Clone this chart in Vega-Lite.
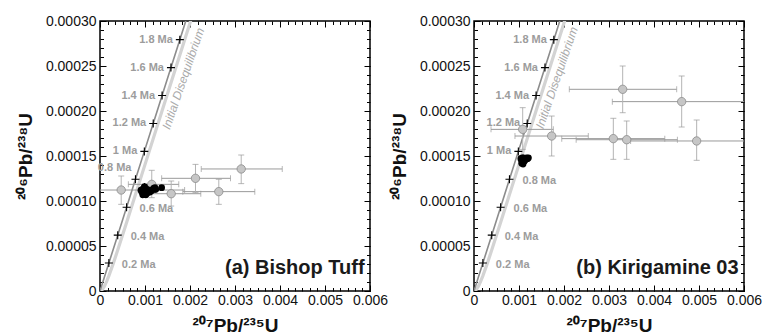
{
 "$schema": "https://vega.github.io/schema/vega-lite/v6.json",
 "padding": {"left": 15, "top": 13, "right": 2, "bottom": 0},
 "spacing": 104,
 "bounds": "flush",
 "config": {
  "font": "Liberation Sans",
  "view": {"stroke": "#000", "strokeWidth": 1.5},
  "axis": {"grid": false, "domain": false, "labelFont": "Liberation Sans", "titleFont": "Liberation Sans", "tickColor": "#000", "labelColor": "#111", "titleColor": "#111", "labelFlush": false, "labelOverlap": false}
 },
 "datasets": {
  "conc": [
   {"t": 0, "x": 0, "y": 0},
   {"t": 0.2, "x": 0.00019699, "y": 0.000031028},
   {"t": 0.4, "x": 0.00039402, "y": 0.000062052},
   {"t": 0.6, "x": 0.00059108, "y": 0.000093079},
   {"t": 0.8, "x": 0.00078819, "y": 0.000124108},
   {"t": 1.0, "x": 0.00098534, "y": 0.000155137},
   {"t": 1.2, "x": 0.00118252, "y": 0.000186167},
   {"t": 1.4, "x": 0.00137974, "y": 0.000217199},
   {"t": 1.6, "x": 0.00157700, "y": 0.000248231},
   {"t": 1.8, "x": 0.00177430, "y": 0.000279264},
   {"t": 2.0, "x": 0.00197164, "y": 0.000310298}
  ],
  "diseq": [
   {"t": 0, "x": 0, "y": 0},
   {"t": 0.01, "x": 0.00000985, "y": 0.000000069},
   {"t": 0.02, "x": 0.000019697, "y": 0.000000267},
   {"t": 0.05, "x": 0.00004924, "y": 0.000001532},
   {"t": 0.1, "x": 0.00009849, "y": 0.00000535},
   {"t": 0.15, "x": 0.00014774, "y": 0.000010618},
   {"t": 0.2, "x": 0.00019699, "y": 0.0000168},
   {"t": 0.3, "x": 0.00029553, "y": 0.000030684},
   {"t": 0.4, "x": 0.00039402, "y": 0.000045545},
   {"t": 0.5, "x": 0.00049255, "y": 0.0000608},
   {"t": 0.6, "x": 0.00059108, "y": 0.000076208},
   {"t": 0.8, "x": 0.00078819, "y": 0.000107179},
   {"t": 1.0, "x": 0.00098534, "y": 0.000138197},
   {"t": 1.4, "x": 0.00137974, "y": 0.000200259},
   {"t": 1.8, "x": 0.0017743, "y": 0.000262324},
   {"t": 2.1, "x": 0.00207032, "y": 0.000308876}
  ],
  "ages": [
   {"label": "0.2 Ma", "x": 0.00019699, "y": 0.000031028, "sa": "R", "sb": "R"},
   {"label": "0.4 Ma", "x": 0.00039402, "y": 0.000062052, "sa": "R", "sb": "R"},
   {"label": "0.6 Ma", "x": 0.00059108, "y": 0.000093079, "sa": "R", "sb": "R"},
   {"label": "0.8 Ma", "x": 0.00078819, "y": 0.000124108, "sa": "UL", "sb": "R"},
   {"label": "1 Ma", "x": 0.00098534, "y": 0.000155137, "sa": "L", "sb": "L"},
   {"label": "1.2 Ma", "x": 0.00118252, "y": 0.000186167, "sa": "L", "sb": "L"},
   {"label": "1.4 Ma", "x": 0.00137974, "y": 0.000217199, "sa": "L", "sb": "L"},
   {"label": "1.6 Ma", "x": 0.001577, "y": 0.000248231, "sa": "L", "sb": "L"},
   {"label": "1.8 Ma", "x": 0.0017743, "y": 0.000279264, "sa": "L", "sb": "L"}
  ],
  "grayA": [
   {"x": 0.000471, "y": 0.0001122, "xmin": -0.00094, "xmax": 0.00188, "ymin": 0.0000963, "ymax": 0.0001278},
   {"x": 0.00115, "y": 0.0001185, "xmin": 0.00063, "xmax": 0.00175, "ymin": 0.0001037, "ymax": 0.0001341},
   {"x": 0.001582, "y": 0.0001081, "xmin": 0.00092, "xmax": 0.00224, "ymin": 0.0000944, "ymax": 0.0001222},
   {"x": 0.002122, "y": 0.0001252, "xmin": 0.00137, "xmax": 0.0029, "ymin": 0.0001093, "ymax": 0.0001407},
   {"x": 0.003138, "y": 0.0001356, "xmin": 0.00225, "xmax": 0.00405, "ymin": 0.0001193, "ymax": 0.0001511},
   {"x": 0.00264, "y": 0.0001104, "xmin": 0.00184, "xmax": 0.00344, "ymin": 0.0000963, "ymax": 0.0001241}
  ],
  "grayB": [
   {"x": 0.003304, "y": 0.0002241, "xmin": 0.002118, "xmax": 0.004504, "ymin": 0.0001981, "ymax": 0.00025},
   {"x": 0.004615, "y": 0.0002104, "xmin": 0.003074, "xmax": 0.00616, "ymin": 0.0001822, "ymax": 0.0002389},
   {"x": 0.001082, "y": 0.0001796, "xmin": 0.000378, "xmax": 0.001763, "ymin": 0.0001574, "ymax": 0.0002037},
   {"x": 0.001726, "y": 0.0001722, "xmin": 0.00091, "xmax": 0.00254, "ymin": 0.00015, "ymax": 0.0001944},
   {"x": 0.003096, "y": 0.0001693, "xmin": 0.00195, "xmax": 0.00424, "ymin": 0.0001463, "ymax": 0.0001919},
   {"x": 0.003393, "y": 0.0001681, "xmin": 0.00227, "xmax": 0.00452, "ymin": 0.0001463, "ymax": 0.0001889},
   {"x": 0.004948, "y": 0.0001667, "xmin": 0.00348, "xmax": 0.00641, "ymin": 0.0001452, "ymax": 0.00019}
  ],
  "blackA": [
   {"x": 0.00091, "y": 0.000112, "xmin": 0.00086, "xmax": 0.00096, "ymin": 0.000108, "ymax": 0.000116},
   {"x": 0.00093, "y": 0.00011, "xmin": 0.00088, "xmax": 0.00098, "ymin": 0.000106, "ymax": 0.000114},
   {"x": 0.00095, "y": 0.000113, "xmin": 0.0009, "xmax": 0.001, "ymin": 0.000109, "ymax": 0.000117},
   {"x": 0.00096, "y": 0.000109, "xmin": 0.00091, "xmax": 0.00101, "ymin": 0.000105, "ymax": 0.000113},
   {"x": 0.00097, "y": 0.000111, "xmin": 0.00092, "xmax": 0.00102, "ymin": 0.000107, "ymax": 0.000115},
   {"x": 0.00098, "y": 0.000115, "xmin": 0.00093, "xmax": 0.00103, "ymin": 0.000111, "ymax": 0.000119},
   {"x": 0.00099, "y": 0.000108, "xmin": 0.00094, "xmax": 0.00104, "ymin": 0.000104, "ymax": 0.000112},
   {"x": 0.001, "y": 0.000112, "xmin": 0.00095, "xmax": 0.00105, "ymin": 0.000108, "ymax": 0.000116},
   {"x": 0.00101, "y": 0.00011, "xmin": 0.00096, "xmax": 0.00106, "ymin": 0.000106, "ymax": 0.000114},
   {"x": 0.00101, "y": 0.000114, "xmin": 0.00096, "xmax": 0.00106, "ymin": 0.00011, "ymax": 0.000118},
   {"x": 0.00102, "y": 0.000107, "xmin": 0.00097, "xmax": 0.00107, "ymin": 0.000103, "ymax": 0.000111},
   {"x": 0.00103, "y": 0.000111, "xmin": 0.00098, "xmax": 0.00108, "ymin": 0.000107, "ymax": 0.000115},
   {"x": 0.00104, "y": 0.000113, "xmin": 0.00099, "xmax": 0.00109, "ymin": 0.000109, "ymax": 0.000117},
   {"x": 0.00105, "y": 0.000109, "xmin": 0.001, "xmax": 0.0011, "ymin": 0.000105, "ymax": 0.000113},
   {"x": 0.00107, "y": 0.000111, "xmin": 0.00102, "xmax": 0.00112, "ymin": 0.000107, "ymax": 0.000115},
   {"x": 0.00109, "y": 0.000112, "xmin": 0.00104, "xmax": 0.00114, "ymin": 0.000108, "ymax": 0.000116},
   {"x": 0.00111, "y": 0.00011, "xmin": 0.00106, "xmax": 0.00116, "ymin": 0.000106, "ymax": 0.000114},
   {"x": 0.00113, "y": 0.000111, "xmin": 0.00108, "xmax": 0.00118, "ymin": 0.000107, "ymax": 0.000115},
   {"x": 0.00116, "y": 0.000112, "xmin": 0.00111, "xmax": 0.00121, "ymin": 0.000108, "ymax": 0.000116},
   {"x": 0.00119, "y": 0.000114, "xmin": 0.00114, "xmax": 0.00124, "ymin": 0.00011, "ymax": 0.000118},
   {"x": 0.00122, "y": 0.000115, "xmin": 0.00117, "xmax": 0.00127, "ymin": 0.000111, "ymax": 0.000119},
   {"x": 0.00124, "y": 0.000113, "xmin": 0.00119, "xmax": 0.00129, "ymin": 0.000109, "ymax": 0.000117},
   {"x": 0.00099, "y": 0.000116, "xmin": 0.00094, "xmax": 0.00104, "ymin": 0.000112, "ymax": 0.00012},
   {"x": 0.00095, "y": 0.000107, "xmin": 0.0009, "xmax": 0.001, "ymin": 0.000103, "ymax": 0.000111},
   {"x": 0.00137, "y": 0.0001148, "xmin": 0.00133, "xmax": 0.00141, "ymin": 0.0001128, "ymax": 0.0001168}
  ],
  "blackB": [
   {"x": 0.00104, "y": 0.000147, "xmin": 0.00101, "xmax": 0.00107, "ymin": 0.000144, "ymax": 0.00015},
   {"x": 0.00106, "y": 0.000145, "xmin": 0.00103, "xmax": 0.00109, "ymin": 0.000142, "ymax": 0.000148},
   {"x": 0.00107, "y": 0.000148, "xmin": 0.00104, "xmax": 0.0011, "ymin": 0.000145, "ymax": 0.000151},
   {"x": 0.00108, "y": 0.000143, "xmin": 0.00105, "xmax": 0.00111, "ymin": 0.00014, "ymax": 0.000146},
   {"x": 0.00109, "y": 0.000146, "xmin": 0.00106, "xmax": 0.00112, "ymin": 0.000143, "ymax": 0.000149},
   {"x": 0.0011, "y": 0.000148, "xmin": 0.00107, "xmax": 0.00113, "ymin": 0.000145, "ymax": 0.000151},
   {"x": 0.00111, "y": 0.000144, "xmin": 0.00108, "xmax": 0.00114, "ymin": 0.000141, "ymax": 0.000147},
   {"x": 0.00112, "y": 0.000147, "xmin": 0.00109, "xmax": 0.00115, "ymin": 0.000144, "ymax": 0.00015},
   {"x": 0.00113, "y": 0.000145, "xmin": 0.0011, "xmax": 0.00116, "ymin": 0.000142, "ymax": 0.000148},
   {"x": 0.00115, "y": 0.000147, "xmin": 0.00112, "xmax": 0.00118, "ymin": 0.000144, "ymax": 0.00015},
   {"x": 0.00117, "y": 0.000148, "xmin": 0.00114, "xmax": 0.0012, "ymin": 0.000145, "ymax": 0.000151},
   {"x": 0.00119, "y": 0.000147, "xmin": 0.00116, "xmax": 0.00122, "ymin": 0.000144, "ymax": 0.00015},
   {"x": 0.00121, "y": 0.000148, "xmin": 0.00118, "xmax": 0.00124, "ymin": 0.000145, "ymax": 0.000151},
   {"x": 0.00106, "y": 0.000142, "xmin": 0.00103, "xmax": 0.00109, "ymin": 0.000139, "ymax": 0.000145},
   {"x": 0.00109, "y": 0.000141, "xmin": 0.00106, "xmax": 0.00112, "ymin": 0.000138, "ymax": 0.000144}
  ]
 },
 "hconcat": [
  {
   "width": 270, "height": 270,
   "resolve": {"axis": {"x": "independent", "y": "independent"}},
   "layer": [
    {"data": {"name": "diseq"}, "mark": {"type": "line", "color": "#d3d3d3", "strokeWidth": 3.2, "clip": true},
     "encoding": {
      "x": {"field": "x", "type": "quantitative", "scale": {"domain": [0, 0.006], "nice": false, "zero": false},
            "axis": {"orient": "bottom", "values": [0, 0.001, 0.002, 0.003, 0.004, 0.005, 0.006], "ticks": false, "labelExpr": "datum.value == 0 ? '0' : format(datum.value, '.3f')", "labelFontSize": 14, "labelPadding": 2, "title": "²⁰⁷Pb/²³⁵U", "titleFontSize": 19, "titleFontWeight": "bold", "titlePadding": 9}},
      "y": {"field": "y", "type": "quantitative", "scale": {"domain": [0, 0.0003], "nice": false, "zero": false},
            "axis": {"orient": "left", "values": [0, 0.00005, 0.0001, 0.00015, 0.0002, 0.00025, 0.0003], "ticks": false, "labelExpr": "datum.value == 0 ? '0' : format(datum.value, '.5f')", "labelFontSize": 14, "labelPadding": 4, "title": "²⁰⁶Pb/²³⁸U", "titleFontSize": 19, "titleFontWeight": "bold", "titlePadding": 10}}
     }},
    {"data": {"name": "conc"}, "mark": {"type": "line", "color": "#8c8c8c", "strokeWidth": 1.6, "clip": true},
     "encoding": {
      "x": {"field": "x", "type": "quantitative", "axis": {"orient": "bottom", "values": [0, 0.001, 0.002, 0.003, 0.004, 0.005, 0.006], "labels": false, "title": null, "tickSize": -6, "tickWidth": 1}},
      "y": {"field": "y", "type": "quantitative", "axis": {"orient": "left", "values": [0, 0.00005, 0.0001, 0.00015, 0.0002, 0.00025, 0.0003], "labels": false, "title": null, "tickSize": -6, "tickWidth": 1}}
     }},
    {"data": {"name": "ages"}, "mark": {"type": "point", "shape": "M-1,0H1M0,-1V1", "filled": false, "stroke": "#000", "strokeWidth": 1.1, "size": 64, "opacity": 1},
     "encoding": {
      "x": {"field": "x", "type": "quantitative", "axis": {"orient": "bottom", "values": [0, 0.000166667, 0.000333333, 0.0005, 0.000666667, 0.000833333, 0.001, 0.001166667, 0.001333333, 0.0015, 0.001666667, 0.001833333, 0.002, 0.002166667, 0.002333333, 0.0025, 0.002666667, 0.002833333, 0.003, 0.003166667, 0.003333333, 0.0035, 0.003666667, 0.003833333, 0.004, 0.004166667, 0.004333333, 0.0045, 0.004666667, 0.004833333, 0.005, 0.005166667, 0.005333333, 0.0055, 0.005666667, 0.005833333, 0.006], "labels": false, "title": null, "tickSize": -3.5, "tickWidth": 1}},
      "y": {"field": "y", "type": "quantitative", "axis": {"orient": "left", "values": [0, 0.00001, 0.00002, 0.00003, 0.00004, 0.00005, 0.00006, 0.00007, 0.00008, 0.00009, 0.0001, 0.00011, 0.00012, 0.00013, 0.00014, 0.00015, 0.00016, 0.00017, 0.00018, 0.00019, 0.0002, 0.00021, 0.00022, 0.00023, 0.00024, 0.00025, 0.00026, 0.00027, 0.00028, 0.00029, 0.0003], "labels": false, "title": null, "tickSize": -3.5, "tickWidth": 1}}
     }},
    {"data": {"name": "ages"}, "transform": [{"filter": "datum.sa == 'L'"}],
     "mark": {"type": "text", "align": "right", "baseline": "middle", "dx": -7, "fontSize": 11, "fontWeight": "bold", "color": "#9c9c9c"},
     "encoding": {
      "x": {"field": "x", "type": "quantitative", "axis": {"orient": "top", "values": [0, 0.001, 0.002, 0.003, 0.004, 0.005, 0.006], "labels": false, "title": null, "tickSize": -6, "tickWidth": 1}},
      "y": {"field": "y", "type": "quantitative", "axis": {"orient": "right", "values": [0, 0.00005, 0.0001, 0.00015, 0.0002, 0.00025, 0.0003], "labels": false, "title": null, "tickSize": -6, "tickWidth": 1}},
      "text": {"field": "label"}
     }},
    {"data": {"name": "ages"}, "transform": [{"filter": "datum.sa == 'R'"}],
     "mark": {"type": "text", "align": "left", "baseline": "middle", "dx": 13, "dy": 2, "fontSize": 11, "fontWeight": "bold", "color": "#9c9c9c"},
     "encoding": {
      "x": {"field": "x", "type": "quantitative", "axis": {"orient": "top", "values": [0, 0.000166667, 0.000333333, 0.0005, 0.000666667, 0.000833333, 0.001, 0.001166667, 0.001333333, 0.0015, 0.001666667, 0.001833333, 0.002, 0.002166667, 0.002333333, 0.0025, 0.002666667, 0.002833333, 0.003, 0.003166667, 0.003333333, 0.0035, 0.003666667, 0.003833333, 0.004, 0.004166667, 0.004333333, 0.0045, 0.004666667, 0.004833333, 0.005, 0.005166667, 0.005333333, 0.0055, 0.005666667, 0.005833333, 0.006], "labels": false, "title": null, "tickSize": -3.5, "tickWidth": 1}},
      "y": {"field": "y", "type": "quantitative", "axis": {"orient": "right", "values": [0, 0.00001, 0.00002, 0.00003, 0.00004, 0.00005, 0.00006, 0.00007, 0.00008, 0.00009, 0.0001, 0.00011, 0.00012, 0.00013, 0.00014, 0.00015, 0.00016, 0.00017, 0.00018, 0.00019, 0.0002, 0.00021, 0.00022, 0.00023, 0.00024, 0.00025, 0.00026, 0.00027, 0.00028, 0.00029, 0.0003], "labels": false, "title": null, "tickSize": -3.5, "tickWidth": 1}},
      "text": {"field": "label"}
     }},
    {"data": {"name": "ages"}, "transform": [{"filter": "datum.sa == 'UL'"}],
     "mark": {"type": "text", "align": "right", "baseline": "middle", "dx": -4, "dy": -11, "fontSize": 11, "fontWeight": "bold", "color": "#9c9c9c"},
     "encoding": {"x": {"field": "x", "type": "quantitative", "axis": null}, "y": {"field": "y", "type": "quantitative", "axis": null}, "text": {"field": "label"}}},
    {"data": {"values": [{"label": "Initial Disequilibrium", "x": 0.00185, "y": 0.000236}]},
     "mark": {"type": "text", "angle": 289, "align": "center", "baseline": "middle", "fontSize": 12, "fontStyle": "italic", "color": "#aaaaaa"},
     "encoding": {"x": {"field": "x", "type": "quantitative", "axis": null}, "y": {"field": "y", "type": "quantitative", "axis": null}, "text": {"field": "label"}}},
    {"data": {"name": "grayA"}, "mark": {"type": "rule", "color": "#9a9a9a", "strokeWidth": 1, "clip": true},
     "encoding": {"x": {"field": "xmin", "type": "quantitative", "axis": null}, "x2": {"field": "xmax"}, "y": {"field": "y", "type": "quantitative", "axis": null}}},
    {"data": {"name": "grayA"}, "mark": {"type": "rule", "color": "#b4b4b4", "strokeWidth": 1, "clip": true},
     "encoding": {"y": {"field": "ymin", "type": "quantitative", "axis": null}, "y2": {"field": "ymax"}, "x": {"field": "x", "type": "quantitative", "axis": null}}},
    {"data": {"name": "grayA"}, "mark": {"type": "tick", "orient": "vertical", "size": 6, "thickness": 1, "color": "#9a9a9a", "clip": true},
     "encoding": {"x": {"field": "xmin", "type": "quantitative", "axis": null}, "y": {"field": "y", "type": "quantitative", "axis": null}}},
    {"data": {"name": "grayA"}, "mark": {"type": "tick", "orient": "vertical", "size": 6, "thickness": 1, "color": "#9a9a9a", "clip": true},
     "encoding": {"x": {"field": "xmax", "type": "quantitative", "axis": null}, "y": {"field": "y", "type": "quantitative", "axis": null}}},
    {"data": {"name": "grayA"}, "mark": {"type": "tick", "orient": "horizontal", "size": 6, "thickness": 1, "color": "#9a9a9a", "clip": true},
     "encoding": {"x": {"field": "x", "type": "quantitative", "axis": null}, "y": {"field": "ymin", "type": "quantitative", "axis": null}}},
    {"data": {"name": "grayA"}, "mark": {"type": "tick", "orient": "horizontal", "size": 6, "thickness": 1, "color": "#9a9a9a", "clip": true},
     "encoding": {"x": {"field": "x", "type": "quantitative", "axis": null}, "y": {"field": "ymax", "type": "quantitative", "axis": null}}},
    {"data": {"name": "blackA"}, "mark": {"type": "rule", "color": "#000", "strokeWidth": 1},
     "encoding": {"x": {"field": "xmin", "type": "quantitative", "axis": null}, "x2": {"field": "xmax"}, "y": {"field": "y", "type": "quantitative", "axis": null}}},
    {"data": {"name": "blackA"}, "mark": {"type": "rule", "color": "#000", "strokeWidth": 1},
     "encoding": {"y": {"field": "ymin", "type": "quantitative", "axis": null}, "y2": {"field": "ymax"}, "x": {"field": "x", "type": "quantitative", "axis": null}}},
    {"data": {"name": "grayA"}, "mark": {"type": "point", "filled": true, "color": "#c6c6c6", "stroke": "#8a8a8a", "strokeWidth": 0.8, "size": 70, "opacity": 1},
     "encoding": {"x": {"field": "x", "type": "quantitative", "axis": null}, "y": {"field": "y", "type": "quantitative", "axis": null}}},
    {"data": {"name": "blackA"}, "mark": {"type": "circle", "color": "#000", "size": 45, "opacity": 1},
     "encoding": {"x": {"field": "x", "type": "quantitative", "axis": null}, "y": {"field": "y", "type": "quantitative", "axis": null}}},
    {"data": {"values": [{"label": "(a) Bishop Tuff", "x": 0.00588, "y": 0.000019}]},
     "mark": {"type": "text", "align": "right", "baseline": "alphabetic", "fontSize": 20, "fontWeight": "bold", "color": "#1a1a1a"},
     "encoding": {"x": {"field": "x", "type": "quantitative", "axis": null}, "y": {"field": "y", "type": "quantitative", "axis": null}, "text": {"field": "label"}}}
   ]
  },
  {
   "width": 270, "height": 270,
   "resolve": {"axis": {"x": "independent", "y": "independent"}},
   "layer": [
    {"data": {"name": "diseq"}, "mark": {"type": "line", "color": "#d3d3d3", "strokeWidth": 3.2, "clip": true},
     "encoding": {
      "x": {"field": "x", "type": "quantitative", "scale": {"domain": [0, 0.006], "nice": false, "zero": false},
            "axis": {"orient": "bottom", "values": [0, 0.001, 0.002, 0.003, 0.004, 0.005, 0.006], "ticks": false, "labelExpr": "datum.value == 0 ? '0' : format(datum.value, '.3f')", "labelFontSize": 14, "labelPadding": 2, "title": "²⁰⁷Pb/²³⁵U", "titleFontSize": 19, "titleFontWeight": "bold", "titlePadding": 9}},
      "y": {"field": "y", "type": "quantitative", "scale": {"domain": [0, 0.0003], "nice": false, "zero": false},
            "axis": {"orient": "left", "values": [0, 0.00005, 0.0001, 0.00015, 0.0002, 0.00025, 0.0003], "ticks": false, "labelExpr": "datum.value == 0 ? '0' : format(datum.value, '.5f')", "labelFontSize": 14, "labelPadding": 4, "title": "²⁰⁶Pb/²³⁸U", "titleFontSize": 19, "titleFontWeight": "bold", "titlePadding": 10}}
     }},
    {"data": {"name": "conc"}, "mark": {"type": "line", "color": "#8c8c8c", "strokeWidth": 1.6, "clip": true},
     "encoding": {
      "x": {"field": "x", "type": "quantitative", "axis": {"orient": "bottom", "values": [0, 0.001, 0.002, 0.003, 0.004, 0.005, 0.006], "labels": false, "title": null, "tickSize": -6, "tickWidth": 1}},
      "y": {"field": "y", "type": "quantitative", "axis": {"orient": "left", "values": [0, 0.00005, 0.0001, 0.00015, 0.0002, 0.00025, 0.0003], "labels": false, "title": null, "tickSize": -6, "tickWidth": 1}}
     }},
    {"data": {"name": "ages"}, "mark": {"type": "point", "shape": "M-1,0H1M0,-1V1", "filled": false, "stroke": "#000", "strokeWidth": 1.1, "size": 64, "opacity": 1},
     "encoding": {
      "x": {"field": "x", "type": "quantitative", "axis": {"orient": "bottom", "values": [0, 0.000166667, 0.000333333, 0.0005, 0.000666667, 0.000833333, 0.001, 0.001166667, 0.001333333, 0.0015, 0.001666667, 0.001833333, 0.002, 0.002166667, 0.002333333, 0.0025, 0.002666667, 0.002833333, 0.003, 0.003166667, 0.003333333, 0.0035, 0.003666667, 0.003833333, 0.004, 0.004166667, 0.004333333, 0.0045, 0.004666667, 0.004833333, 0.005, 0.005166667, 0.005333333, 0.0055, 0.005666667, 0.005833333, 0.006], "labels": false, "title": null, "tickSize": -3.5, "tickWidth": 1}},
      "y": {"field": "y", "type": "quantitative", "axis": {"orient": "left", "values": [0, 0.00001, 0.00002, 0.00003, 0.00004, 0.00005, 0.00006, 0.00007, 0.00008, 0.00009, 0.0001, 0.00011, 0.00012, 0.00013, 0.00014, 0.00015, 0.00016, 0.00017, 0.00018, 0.00019, 0.0002, 0.00021, 0.00022, 0.00023, 0.00024, 0.00025, 0.00026, 0.00027, 0.00028, 0.00029, 0.0003], "labels": false, "title": null, "tickSize": -3.5, "tickWidth": 1}}
     }},
    {"data": {"name": "ages"}, "transform": [{"filter": "datum.sb == 'L'"}],
     "mark": {"type": "text", "align": "right", "baseline": "middle", "dx": -7, "fontSize": 11, "fontWeight": "bold", "color": "#9c9c9c"},
     "encoding": {
      "x": {"field": "x", "type": "quantitative", "axis": {"orient": "top", "values": [0, 0.001, 0.002, 0.003, 0.004, 0.005, 0.006], "labels": false, "title": null, "tickSize": -6, "tickWidth": 1}},
      "y": {"field": "y", "type": "quantitative", "axis": {"orient": "right", "values": [0, 0.00005, 0.0001, 0.00015, 0.0002, 0.00025, 0.0003], "labels": false, "title": null, "tickSize": -6, "tickWidth": 1}},
      "text": {"field": "label"}
     }},
    {"data": {"name": "ages"}, "transform": [{"filter": "datum.sb == 'R'"}],
     "mark": {"type": "text", "align": "left", "baseline": "middle", "dx": 13, "dy": 2, "fontSize": 11, "fontWeight": "bold", "color": "#9c9c9c"},
     "encoding": {
      "x": {"field": "x", "type": "quantitative", "axis": {"orient": "top", "values": [0, 0.000166667, 0.000333333, 0.0005, 0.000666667, 0.000833333, 0.001, 0.001166667, 0.001333333, 0.0015, 0.001666667, 0.001833333, 0.002, 0.002166667, 0.002333333, 0.0025, 0.002666667, 0.002833333, 0.003, 0.003166667, 0.003333333, 0.0035, 0.003666667, 0.003833333, 0.004, 0.004166667, 0.004333333, 0.0045, 0.004666667, 0.004833333, 0.005, 0.005166667, 0.005333333, 0.0055, 0.005666667, 0.005833333, 0.006], "labels": false, "title": null, "tickSize": -3.5, "tickWidth": 1}},
      "y": {"field": "y", "type": "quantitative", "axis": {"orient": "right", "values": [0, 0.00001, 0.00002, 0.00003, 0.00004, 0.00005, 0.00006, 0.00007, 0.00008, 0.00009, 0.0001, 0.00011, 0.00012, 0.00013, 0.00014, 0.00015, 0.00016, 0.00017, 0.00018, 0.00019, 0.0002, 0.00021, 0.00022, 0.00023, 0.00024, 0.00025, 0.00026, 0.00027, 0.00028, 0.00029, 0.0003], "labels": false, "title": null, "tickSize": -3.5, "tickWidth": 1}},
      "text": {"field": "label"}
     }},
    {"data": {"values": [{"label": "Initial Disequilibrium", "x": 0.00184, "y": 0.000237}]},
     "mark": {"type": "text", "angle": 289, "align": "center", "baseline": "middle", "fontSize": 12, "fontStyle": "italic", "color": "#aaaaaa"},
     "encoding": {"x": {"field": "x", "type": "quantitative", "axis": null}, "y": {"field": "y", "type": "quantitative", "axis": null}, "text": {"field": "label"}}},
    {"data": {"name": "grayB"}, "mark": {"type": "rule", "color": "#9a9a9a", "strokeWidth": 1, "clip": true},
     "encoding": {"x": {"field": "xmin", "type": "quantitative", "axis": null}, "x2": {"field": "xmax"}, "y": {"field": "y", "type": "quantitative", "axis": null}}},
    {"data": {"name": "grayB"}, "mark": {"type": "rule", "color": "#b4b4b4", "strokeWidth": 1, "clip": true},
     "encoding": {"y": {"field": "ymin", "type": "quantitative", "axis": null}, "y2": {"field": "ymax"}, "x": {"field": "x", "type": "quantitative", "axis": null}}},
    {"data": {"name": "grayB"}, "mark": {"type": "tick", "orient": "vertical", "size": 6, "thickness": 1, "color": "#9a9a9a", "clip": true},
     "encoding": {"x": {"field": "xmin", "type": "quantitative", "axis": null}, "y": {"field": "y", "type": "quantitative", "axis": null}}},
    {"data": {"name": "grayB"}, "mark": {"type": "tick", "orient": "vertical", "size": 6, "thickness": 1, "color": "#9a9a9a", "clip": true},
     "encoding": {"x": {"field": "xmax", "type": "quantitative", "axis": null}, "y": {"field": "y", "type": "quantitative", "axis": null}}},
    {"data": {"name": "grayB"}, "mark": {"type": "tick", "orient": "horizontal", "size": 6, "thickness": 1, "color": "#9a9a9a", "clip": true},
     "encoding": {"x": {"field": "x", "type": "quantitative", "axis": null}, "y": {"field": "ymin", "type": "quantitative", "axis": null}}},
    {"data": {"name": "grayB"}, "mark": {"type": "tick", "orient": "horizontal", "size": 6, "thickness": 1, "color": "#9a9a9a", "clip": true},
     "encoding": {"x": {"field": "x", "type": "quantitative", "axis": null}, "y": {"field": "ymax", "type": "quantitative", "axis": null}}},
    {"data": {"name": "blackB"}, "mark": {"type": "rule", "color": "#000", "strokeWidth": 1},
     "encoding": {"x": {"field": "xmin", "type": "quantitative", "axis": null}, "x2": {"field": "xmax"}, "y": {"field": "y", "type": "quantitative", "axis": null}}},
    {"data": {"name": "blackB"}, "mark": {"type": "rule", "color": "#000", "strokeWidth": 1},
     "encoding": {"y": {"field": "ymin", "type": "quantitative", "axis": null}, "y2": {"field": "ymax"}, "x": {"field": "x", "type": "quantitative", "axis": null}}},
    {"data": {"name": "grayB"}, "mark": {"type": "point", "filled": true, "color": "#c6c6c6", "stroke": "#8a8a8a", "strokeWidth": 0.8, "size": 70, "opacity": 1},
     "encoding": {"x": {"field": "x", "type": "quantitative", "axis": null}, "y": {"field": "y", "type": "quantitative", "axis": null}}},
    {"data": {"name": "blackB"}, "mark": {"type": "circle", "color": "#000", "size": 45, "opacity": 1},
     "encoding": {"x": {"field": "x", "type": "quantitative", "axis": null}, "y": {"field": "y", "type": "quantitative", "axis": null}}},
    {"data": {"values": [{"label": "(b) Kirigamine 03", "x": 0.00588, "y": 0.000019}]},
     "mark": {"type": "text", "align": "right", "baseline": "alphabetic", "fontSize": 20, "fontWeight": "bold", "color": "#1a1a1a"},
     "encoding": {"x": {"field": "x", "type": "quantitative", "axis": null}, "y": {"field": "y", "type": "quantitative", "axis": null}, "text": {"field": "label"}}}
   ]
  }
 ]
}
